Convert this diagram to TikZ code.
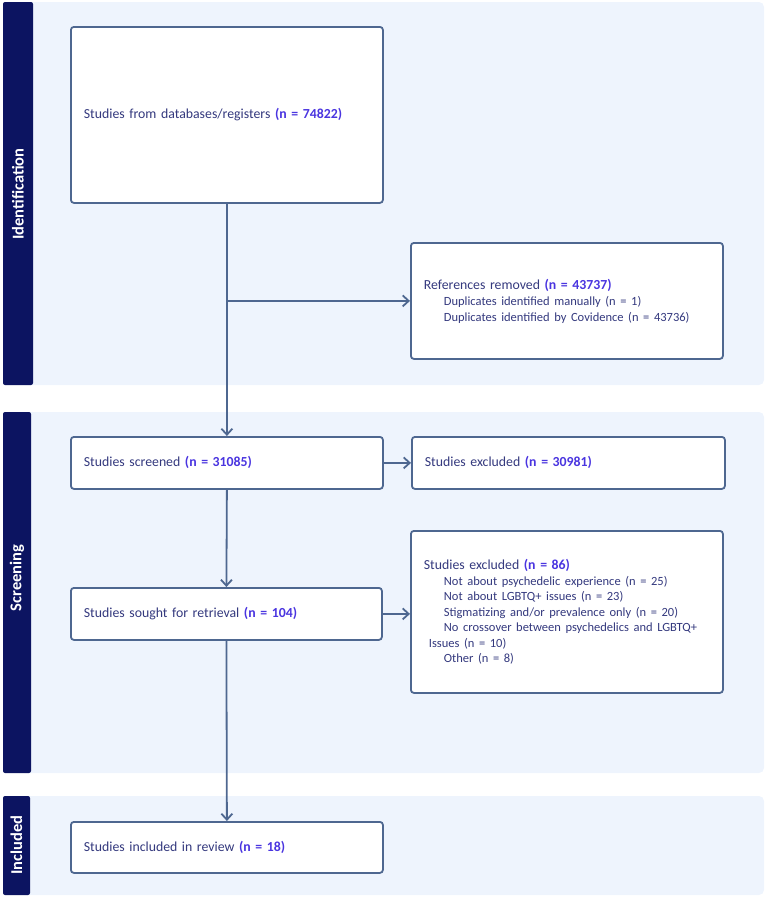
\documentclass[tikz,border=0pt]{standalone}
\usepackage{fontspec}
\setmainfont{Carlito}
\usetikzlibrary{arrows.meta}
\definecolor{bandbg}{HTML}{EEF4FD}
\definecolor{strip}{HTML}{0C1461}
\definecolor{edge}{HTML}{4E6790}
\definecolor{txt}{HTML}{34397E}
\definecolor{num}{HTML}{4A35E0}
\newcommand{\nv}[1]{\textbf{\color{num}#1}}
\newcommand{\subl}[2][20pt]{\mbox{\hspace*{#1}\fontsize{12.5}{15.5}\selectfont #2}}
\tikzset{
  band/.style={fill=bandbg, draw=none, rounded corners=5pt},
  stripbox/.style={fill=strip, draw=none, rounded corners=2pt},
  striplabel/.style={text=white, font=\bfseries\fontsize{16.5}{18}\selectfont, rotate=90},
  flowbox/.style={draw=edge, line width=1.8pt, fill=white, rounded corners=3pt, anchor=north west,
    align=left, text=txt, inner xsep=13pt, inner ysep=4pt, font=\fontsize{13.8}{16}\selectfont},
  conn/.style={draw=edge, line width=1.8pt, -{Straight Barb[length=6pt,width=11pt,line width=1.8pt]}}
}
\begin{document}
\begin{tikzpicture}[x=1pt,y=-1pt]
\useasboundingbox (0,0) rectangle (767,897);
% bands
\fill[band] (20,2) rectangle (764,385);
\fill[band] (20,412) rectangle (764,773);
\fill[band] (20,796) rectangle (764,895);
\fill[stripbox] (3,2) rectangle (33,385);
\fill[stripbox] (3,412) rectangle (31,773);
\fill[stripbox] (3,796) rectangle (30,895);
\node[striplabel] (lid) at (18,194) {Identification};
\node[striplabel] (lsc) at (17,578) {Screening};
\node[striplabel] (lin) at (16.5,845) {Included};
% boxes
\node[flowbox, minimum width=312pt, minimum height=176pt, text width=286pt] (b1) at (70,26)
  {Studies from databases/registers \nv{(n = 74822)}};
\node[flowbox, minimum width=312pt, minimum height=116pt, text width=286pt] (b2) at (410,242)
  {References removed \nv{(n = 43737)}\\
   \subl{Duplicates identified manually (n = 1)}\\
   \subl{Duplicates identified by Covidence (n = 43736)}};
\node[flowbox, minimum width=312pt, minimum height=52pt, text width=286pt] (b3) at (70,436)
  {Studies screened \nv{(n = 31085)}};
\node[flowbox, minimum width=313pt, minimum height=52pt, text width=287pt] (b4) at (411,436)
  {Studies excluded \nv{(n = 30981)}};
\node[flowbox, minimum width=311pt, minimum height=52pt, text width=285pt] (b5) at (70,587)
  {Studies sought for retrieval \nv{(n = 104)}};
\node[flowbox, minimum width=312pt, minimum height=162pt, text width=286pt,
  font=\fontsize{13.8}{15.5}\selectfont] (b6) at (410,530)
  {Studies excluded \nv{(n = 86)}\\
   \subl{Not about psychedelic experience (n = 25)}\\
   \subl{Not about LGBTQ+ issues (n = 23)}\\
   \subl{Stigmatizing and/or prevalence only (n = 20)}\\
   \subl{No crossover between psychedelics and LGBTQ+}\\
   \subl[5pt]{Issues (n = 10)}\\
   \subl{Other (n = 8)}};
\node[flowbox, minimum width=312pt, minimum height=51pt, text width=286pt] (b7) at (70,821)
  {Studies included in review \nv{(n = 18)}};
% connectors
\coordinate (j1) at (b2.west -| b1.south);
\draw[conn] (b1.south) -- (b3.north);
\draw[conn] (j1) -- (b2.west);
\draw[conn] (b3.east) -- (b3.east -| b4.west);
\draw[conn] (b3.south) -- (b5.north);
\draw[conn] (b5.east) -- (b5.east -| b6.west);
\draw[conn] (b5.south) -- (b7.north);
\end{tikzpicture}
\end{document}
